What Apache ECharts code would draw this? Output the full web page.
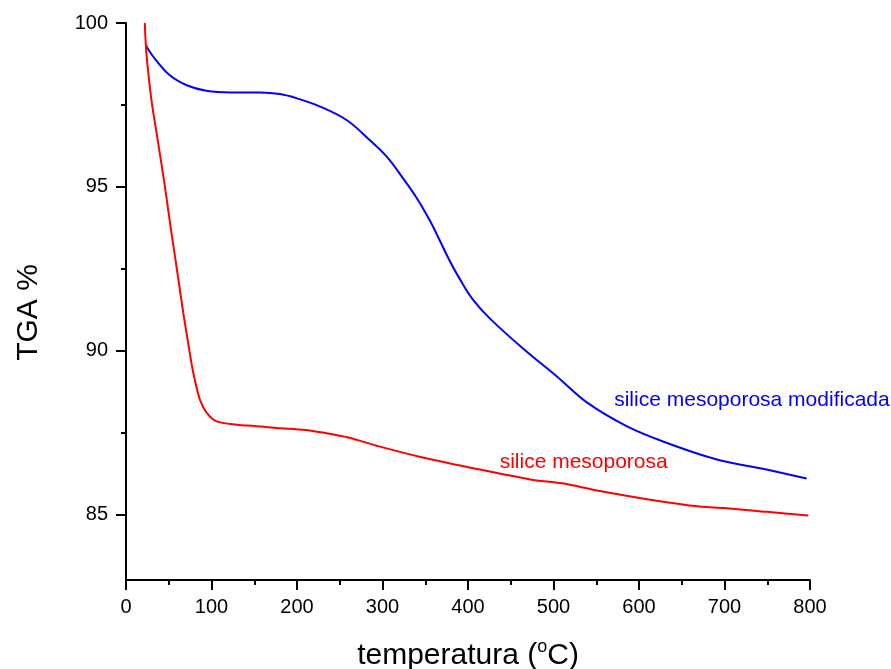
<!DOCTYPE html>
<html>
<head>
<meta charset="utf-8">
<script src="https://cdn.jsdelivr.net/npm/echarts@6/dist/echarts.min.js"></script>
<style>
  html, body { margin: 0; padding: 0; background: #fff; }
  #chart { width: 891px; height: 669px; }
</style>
</head>
<body>
<div id="chart"></div>
<script>
  // silice mesoporosa modificada (blue)
  var modTemps = [23, 32, 51, 71, 94, 122, 157, 180, 200, 227, 258, 285, 305, 324, 340, 356, 367, 379, 391, 406, 426, 465, 504, 539, 586, 632, 691, 749, 796];
  var modValues = [99.33, 98.97, 98.41, 98.1, 97.93, 97.88, 97.88, 97.83, 97.7, 97.45, 97.04, 96.43, 95.92, 95.26, 94.66, 93.94, 93.36, 92.72, 92.16, 91.55, 90.97, 90.05, 89.21, 88.42, 87.69, 87.19, 86.68, 86.37, 86.1];

  // silice mesoporosa (red)
  var mesoTemps = [22, 23.5, 26, 30, 36, 45, 52, 60, 67, 72, 77, 81, 86.5, 94.5, 106, 130, 150, 176, 210, 230, 260, 297, 347, 414, 473, 510, 551, 613, 671, 700, 750, 798];
  var mesoValues = [100, 99.2, 98.5, 97.6, 96.6, 95.1, 93.8, 92.4, 91.15, 90.35, 89.55, 89.05, 88.5, 88.1, 87.84, 87.74, 87.7, 87.64, 87.58, 87.5, 87.35, 87.07, 86.74, 86.37, 86.07, 85.95, 85.73, 85.45, 85.24, 85.2, 85.08, 84.97];

  var yTicks = [85, 90, 95, 100];
  var yMinorTicks = [87.5, 92.5, 97.5];

  function pairs(xs, ys) {
    return xs.map(function (x, i) { return [x, ys[i]]; });
  }

  var chart = echarts.init(document.getElementById('chart'));
  var font = 'Liberation Sans, Arial, sans-serif';

  chart.setOption({
    animation: false,
    textStyle: { fontFamily: font },
    grid: { left: 126, top: 23, right: 81, bottom: 89, outerBoundsMode: 'none' },
    xAxis: {
      type: 'value',
      min: 0,
      max: 800,
      interval: 100,
      name: 'temperatura ({sup|o}C)',
      nameLocation: 'middle',
      nameGap: 58,
      nameTextStyle: {
        fontSize: 30, color: '#000', fontFamily: font,
        rich: { sup: { fontSize: 18, color: '#000', fontFamily: font, padding: [0, 0, 18, 0] } }
      },
      axisLine: { lineStyle: { color: '#000', width: 2 } },
      axisTick: { length: 10, lineStyle: { color: '#000', width: 2 } },
      minorTick: { show: true, splitNumber: 2, length: 5, lineStyle: { color: '#000', width: 2 } },
      axisLabel: { fontSize: 20, color: '#000', margin: 17 },
      splitLine: { show: false }
    },
    yAxis: [{
      type: 'value',
      min: 83,
      max: 100,
      name: 'TGA %',
      nameLocation: 'middle',
      nameGap: 82,
      nameTextStyle: { fontSize: 30, color: '#000', padding: [0, 22, 0, 0] },
      axisLine: { lineStyle: { color: '#000', width: 2 } },
      axisTick: { length: 10, customValues: yTicks, lineStyle: { color: '#000', width: 2 } },
      axisLabel: { fontSize: 20, color: '#000', margin: 18, customValues: yTicks },
      splitLine: { show: false }
    }, {
      type: 'value',
      min: 83,
      max: 100,
      position: 'left',
      axisLine: { show: false },
      axisTick: { length: 5, customValues: yMinorTicks, lineStyle: { color: '#000', width: 2 } },
      axisLabel: { show: false },
      splitLine: { show: false }
    }],
    series: [
      {
        name: 'silice mesoporosa modificada',
        type: 'line',
        data: pairs(modTemps, modValues),
        showSymbol: false,
        smooth: 0.35,
        lineStyle: { color: '#0000ff', width: 2 },
        markPoint: {
          symbolSize: 0,
          data: [{ coord: [571, 88.5] }],
          label: {
            show: true, position: 'right', distance: 0,
            formatter: 'silice mesoporosa modificada',
            color: '#0000ff', fontSize: 21, fontFamily: font
          }
        }
      },
      {
        name: 'silice mesoporosa',
        type: 'line',
        data: pairs(mesoTemps, mesoValues),
        showSymbol: false,
        smooth: 0.3,
        lineStyle: { color: '#ff0000', width: 2 },
        markPoint: {
          symbolSize: 0,
          data: [{ coord: [437, 86.6] }],
          label: {
            show: true, position: 'right', distance: 0,
            formatter: 'silice mesoporosa',
            color: '#ff0000', fontSize: 21, fontFamily: font
          }
        }
      }
    ]
  });
</script>
</body>
</html>
